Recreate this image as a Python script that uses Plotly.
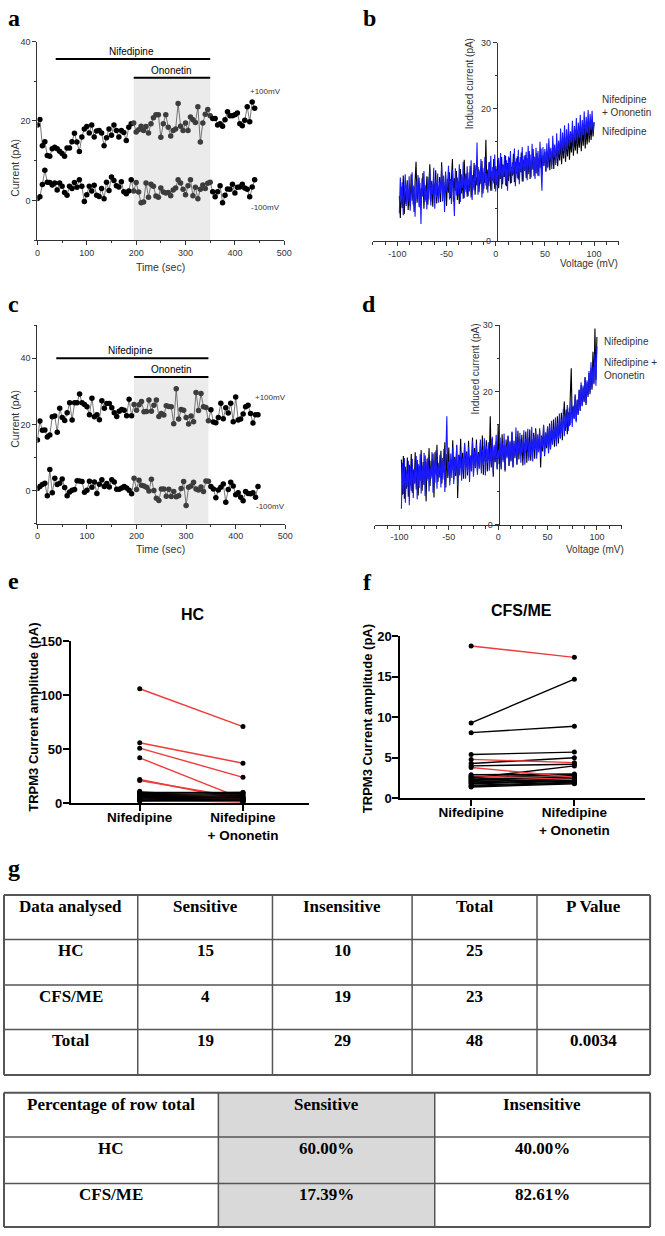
import plotly.graph_objects as go

W, H = 665, 1236

# ---------------- panels a / c : current (pA) vs time (sec) ----------------
TIME_A = list(range(0, 445, 5))
TIME_C = list(range(0, 450, 5))

POS_A = [19.0, 20.4, 13.8, 14.8, 11.3, 11.1, 13.0, 13.4, 13.0, 12.4,
         11.8, 11.1, 13.2, 13.2, 14.8, 16.9, 14.7, 12.3, 16.0, 18.0,
         18.6, 17.0, 19.0, 16.0, 17.5, 17.6, 17.0, 13.8, 15.8, 18.0,
         16.4, 19.0, 17.6, 16.0, 17.6, 17.1, 15.1, 18.4, 19.3, 19.5,
         17.2, 17.8, 18.7, 17.6, 18.6, 17.0, 19.3, 20.8, 21.6, 21.6,
         15.9, 19.3, 21.6, 18.4, 16.2, 17.6, 18.0, 24.4, 18.7, 17.6,
         19.5, 17.6, 21.0, 20.3, 19.6, 23.6, 14.7, 19.5, 21.7, 22.9,
         21.3, 20.6, 20.6, 19.0, 19.3, 18.7, 20.3, 22.3, 21.3, 21.3,
         21.6, 22.0, 19.3, 18.8, 20.2, 23.6, 19.8, 24.8, 23.2]
NEG_A = [0.5, 0.9, 4.0, 7.6, 4.6, 4.5, 3.9, 4.4, 2.6, 4.4,
         3.6, 2.0, 1.3, 3.6, 3.0, 4.5, 3.3, 5.2, 3.6, -0.3,
         1.4, 3.6, 2.4, 3.8, 1.3, 1.0, 3.0, 0.4, 4.6, 2.5,
         5.9, 5.0, 3.7, 3.4, 4.7, 2.2, 1.7, 2.4, 5.2, 2.4,
         4.5, 2.1, -0.6, -0.4, 4.4, 0.8, 4.1, 3.6, 1.1, 0.8,
         3.1, 2.1, 1.9, 2.0, 1.2, 2.6, 3.1, 5.2, 4.4, 2.8,
         1.4, 3.7, 5.2, 1.2, 3.3, 0.4, 2.8, 3.9, 3.0, 4.3,
         4.6, 2.2, 0.9, 2.2, 3.7, -0.6, 1.3, 2.9, 2.8, 4.1,
         1.9, 3.3, 3.4, 4.1, 3.1, 2.8, 0.9, 3.4, 5.2]
POS_C = [15.3, 21.0, 18.2, 18.3, 16.2, 16.8, 22.3, 22.5, 17.6, 24.9,
         22.1, 21.2, 23.5, 26.5, 21.3, 26.5, 26.5, 29.2, 26.5, 26.0,
         25.3, 22.9, 27.9, 22.3, 22.9, 21.4, 27.1, 24.9, 26.3, 26.3,
         25.0, 23.5, 22.4, 24.0, 24.5, 24.3, 22.6, 27.6, 22.6, 26.0,
         24.3, 25.9, 26.9, 23.8, 23.9, 27.4, 24.0, 25.8, 27.4, 22.4,
         23.3, 22.8, 25.6, 25.4, 25.3, 20.2, 30.8, 21.6, 24.5, 24.3,
         22.1, 20.1, 22.5, 20.8, 29.6, 24.2, 29.3, 25.3, 25.1, 21.1,
         24.4, 20.7, 20.5, 22.1, 26.4, 21.7, 25.0, 23.4, 26.4, 20.8,
         28.3, 21.3, 21.6, 23.1, 25.3, 25.8, 23.3, 20.4, 22.9, 22.9]
NEG_C = [0.6, 1.2, 1.8, 2.2, -1.6, 6.4, -0.7, 3.7, 1.8, 2.2,
         3.5, 0.9, -1.6, -0.4, 0.1, 0.3, 3.0, 2.9, 2.7, -0.5,
         0.1, 2.8, 1.0, 2.6, -0.9, 1.9, 3.3, 1.2, 2.1, 1.1,
         3.3, 2.6, 0.4, 0.4, 0.8, 1.2, 0.8, 0.1, -1.0, 3.7,
         0.3, 3.1, 1.6, 1.4, 1.0, -0.1, 3.4, 0.0, -2.3, -3.0,
         0.5, 0.5, -1.7, 0.4, -1.8, -0.3, -1.9, -1.6, 0.6, 2.7,
         -4.5, 1.0, 1.4, 2.5, 0.5, 0.2, 1.1, -0.3, 2.9, 2.8,
         1.2, 0.5, -2.2, 0.2, 1.0, 2.0, -3.5, 0.3, 2.5, 1.4,
         -1.3, -0.7, -2.0, -3.1, -0.3, -0.9, -1.0, -0.7, -2.0, 1.2]

# drug application windows (sec)
NIF_A = [37, 350]
ONO_A = [195, 350]
NIF_C = [38, 345]
ONO_C = [195, 345]

# ---------------- panels b / d : induced current (pA) over the voltage ramp ----------------
VOLT = list(range(-98, 101))
VOLT_TICKS = [-100, -50, 0, 50, 100]
VOLT_LABELS = ["-100", "-50", "0", "50", "100"]

NIF_B = [6.8, 3.5, 8.2, 5.0, 9.9, 4.1, 7.6, 5.6, 9.2, 4.7,
         7.8, 5.3, 10.1, 6.1, 8.4, 4.4, 9.0, 12.0, 5.8, 7.2,
         9.6, 5.1, 8.0, 6.7, 10.3, 4.9, 8.5, 6.2, 9.8, 5.5,
         7.9, 11.6, 6.0, 9.1, 5.2, 8.8, 6.9, 10.7, 5.7, 8.3,
         6.4, 9.7, 5.9, 11.9, 7.1, 8.9, 6.1, 10.0, 5.3, 9.4,
         7.3, 10.4, 6.5, 8.7, 12.4, 6.0, 9.5, 7.6, 10.6, 6.2,
         8.8, 5.6, 10.9, 7.2, 9.1, 6.4, 12.3, 7.8, 10.2, 6.7,
         9.3, 7.5, 11.4, 6.6, 10.0, 8.1, 11.8, 7.0, 9.7, 8.4,
         11.2, 7.4, 10.5, 8.6, 12.1, 7.2, 9.9, 8.8, 15.3, 7.8,
         10.8, 8.3, 12.0, 7.6, 10.6, 9.1, 12.4, 7.9, 11.3, 8.5,
         12.2, 8.0, 10.9, 9.4, 12.7, 8.6, 11.5, 9.7, 12.9, 8.3,
         11.8, 9.1, 12.6, 8.7, 11.2, 9.9, 13.2, 8.9, 12.0, 10.2,
         12.8, 9.3, 11.9, 10.4, 13.4, 9.0, 12.3, 10.6, 13.0, 9.5,
         12.5, 10.1, 13.6, 9.4, 12.2, 10.8, 13.9, 9.8, 12.7, 10.3,
         13.3, 9.9, 12.6, 11.0, 14.0, 10.0, 12.9, 11.4, 13.5, 10.5,
         13.0, 11.2, 14.2, 10.7, 13.6, 11.5, 14.8, 10.9, 13.8, 11.8,
         14.9, 11.3, 14.1, 12.2, 15.4, 11.6, 14.7, 12.5, 15.8, 12.0,
         15.2, 12.8, 16.1, 12.3, 15.5, 13.4, 16.6, 12.9, 15.9, 13.7,
         16.8, 13.2, 16.3, 14.1, 17.2, 13.6, 16.9, 14.4, 17.8, 14.0,
         17.1, 14.6, 18.0, 14.9, 17.5, 15.3, 18.2, 15.8, 17.9]
NIF_ONO_B = [4.2, 9.6, 5.8, 8.9, 3.9, 7.4, 10.1, 5.3, 8.6, 6.0,
             9.8, 4.6, 7.9, 10.4, 5.5, 8.2, 3.7, 9.1, 6.4, 10.0,
             5.2, 8.8, 2.6, 9.5, 6.8, 10.6, 5.9, 8.1, 4.8, 9.7,
             6.3, 10.9, 5.4, 8.7, 7.0, 11.1, 4.9, 9.3, 6.6, 10.2,
             5.8, 9.0, 7.2, 11.3, 6.0, 9.9, 4.4, 10.5, 7.5, 8.6,
             11.4, 6.3, 9.4, 5.6, 10.8, 7.8, 3.8, 11.0, 6.9, 9.6,
             7.1, 11.6, 5.9, 10.1, 8.0, 12.0, 6.5, 9.8, 7.4, 11.3,
             6.8, 10.4, 8.3, 12.2, 6.2, 9.9, 7.7, 11.5, 8.6, 14.9,
             7.0, 10.8, 8.8, 12.4, 6.6, 11.1, 7.9, 12.7, 8.4, 10.3,
             7.3, 11.9, 9.0, 12.9, 7.6, 11.2, 8.7, 13.1, 7.5, 10.9,
             8.2, 12.6, 9.4, 13.3, 7.9, 11.6, 9.7, 13.0, 8.4, 12.2,
             7.6, 12.8, 9.9, 13.6, 8.8, 11.9, 10.1, 14.0, 8.3, 12.5,
             9.5, 13.8, 8.6, 12.7, 10.4, 14.2, 9.0, 12.9, 10.7, 13.5,
             9.2, 14.4, 10.5, 13.1, 9.6, 14.7, 10.9, 12.8, 9.4, 14.1,
             10.2, 13.6, 9.8, 15.0, 10.9, 7.6, 14.2, 11.3, 13.9, 10.6,
             14.8, 11.0, 15.5, 12.2, 14.1, 10.9, 15.9, 12.6, 14.6, 11.5,
             16.3, 12.4, 15.2, 13.1, 17.0, 12.8, 16.4, 13.6, 17.5, 12.9,
             16.9, 13.8, 17.8, 14.3, 16.6, 14.9, 18.2, 13.9, 17.4, 15.2,
             18.6, 14.7, 17.9, 15.6, 19.1, 14.9, 18.3, 16.0, 19.6, 15.4,
             18.8, 16.3, 19.8, 15.9, 19.2, 16.8, 19.7, 16.5, 18.0]

NIF_D = [9.8, 4.5, 10.3, 3.9, 8.7, 5.4, 10.1, 4.2, 9.0, 5.9,
         10.6, 4.8, 8.3, 6.2, 10.9, 5.3, 9.7, 4.4, 8.9, 6.6,
         11.2, 5.1, 9.4, 6.0, 10.4, 3.5, 9.9, 6.9, 11.5, 5.8,
         9.6, 7.2, 10.7, 4.1, 10.9, 7.5, 12.0, 6.4, 9.3, 7.1,
         11.1, 6.2, 10.0, 7.8, 12.4, 5.6, 10.6, 7.0, 11.6, 6.5,
         9.8, 8.1, 12.7, 6.8, 10.2, 7.3, 11.9, 4.0, 10.5, 8.4,
         12.9, 7.6, 10.8, 6.9, 12.2, 8.7, 11.0, 7.4, 12.6, 8.0,
         10.4, 9.0, 13.1, 7.7, 11.5, 8.5, 12.8, 7.9, 10.9, 9.3,
         12.3, 8.2, 13.4, 7.5, 11.8, 9.6, 12.7, 8.0, 11.4, 9.8,
         16.3, 8.6, 12.9, 7.2, 11.7, 9.4, 12.5, 8.4, 15.0, 9.1,
         12.1, 8.3, 13.6, 9.7, 11.9, 8.0, 12.8, 10.2, 13.3, 8.8,
         12.4, 9.5, 13.9, 8.6, 12.6, 10.0, 13.2, 9.0, 14.1, 9.8,
         12.9, 10.4, 13.5, 8.9, 12.3, 10.7, 14.0, 9.3, 13.1, 10.1,
         14.3, 9.6, 12.8, 10.9, 13.8, 9.9, 14.5, 10.5, 12.7, 11.2,
         14.2, 8.6, 13.4, 11.0, 14.9, 10.3, 13.7, 11.5, 14.6, 10.8,
         15.2, 11.3, 14.3, 12.1, 15.8, 11.7, 14.9, 12.6, 16.3, 12.2,
         15.7, 13.1, 16.8, 12.7, 16.0, 18.5, 14.1, 17.3, 13.6, 16.9,
         14.8, 18.1, 23.5, 15.3, 17.7, 16.0, 19.4, 15.6, 18.8, 16.5,
         20.2, 17.1, 21.0, 17.8, 20.6, 18.4, 22.1, 18.0, 21.4, 19.2,
         22.8, 19.6, 23.6, 20.3, 26.0, 21.1, 29.5, 21.8, 28.2]
NIF_ONO_D = [2.4, 9.3, 4.6, 10.0, 3.3, 8.1, 5.7, 9.6, 2.9, 8.8,
             5.1, 9.9, 4.0, 8.4, 6.2, 10.3, 3.8, 9.1, 5.5, 10.6,
             4.7, 8.9, 6.0, 10.8, 4.3, 9.4, 6.6, 10.1, 5.0, 8.6,
             6.9, 10.9, 4.8, 9.7, 6.3, 11.2, 5.4, 9.0, 7.1, 10.5,
             5.6, 9.8, 6.8, 11.4, 4.9, 10.2, 16.3, 7.3, 9.5, 5.9,
             10.7, 7.0, 11.6, 6.1, 9.9, 7.7, 12.0, 5.8, 10.4, 7.4,
             11.1, 6.6, 10.0, 8.2, 12.3, 6.9, 10.8, 7.9, 11.7, 6.4,
             10.3, 8.0, 12.6, 7.2, 11.0, 8.7, 12.1, 7.5, 10.6, 8.4,
             12.8, 7.7, 11.3, 8.9, 13.0, 7.4, 11.8, 9.2, 12.4, 8.1,
             11.5, 9.0, 13.2, 7.8, 12.0, 9.6, 13.5, 8.3, 11.2, 9.9,
             13.1, 8.6, 12.3, 9.4, 13.7, 8.2, 11.9, 10.0, 13.4, 8.9,
             12.6, 9.7, 14.0, 8.7, 12.2, 10.3, 14.6, 9.1, 12.9, 10.6,
             13.8, 9.3, 12.5, 10.8, 14.2, 9.0, 13.0, 11.1, 14.4, 9.6,
             12.7, 10.4, 14.7, 9.5, 13.3, 11.2, 14.1, 9.9, 13.6, 10.9,
             14.5, 10.1, 13.2, 11.6, 15.0, 10.5, 13.9, 11.9, 14.8, 10.7,
             14.9, 11.4, 15.6, 12.0, 14.4, 12.7, 16.1, 11.8, 15.3, 13.0,
             16.7, 12.9, 15.8, 13.8, 17.4, 13.3, 16.5, 14.6, 18.0, 14.1,
             17.6, 15.0, 18.9, 14.7, 17.9, 15.9, 19.6, 15.4, 18.7, 16.6,
             20.3, 17.2, 21.4, 18.0, 20.9, 18.6, 22.2, 18.3, 21.7, 19.5,
             23.1, 20.0, 24.4, 20.6, 23.8, 21.3, 25.7, 20.9, 26.8]

# ---------------- panels e / f : TRPM3 current amplitude (pA) ----------------
CATS = ["Nifedipine", "Nifedipine<br>+ Ononetin"]

HC_SENS_NIF = [106, 56, 51, 42, 22, 21, 11, 10, 9, 8, 7, 6, 5, 4, 3]
HC_SENS_ONO = [71, 37, 24, 4, 3, 5, 3, 4, 2, 3, 5, 2, 2.5, 1.5, 1]
HC_INS_NIF = [10, 9, 8, 7, 6, 5, 4, 3, 2.5, 2]
HC_INS_ONO = [10, 10, 9, 8, 7, 6, 5, 4, 3, 2.5]

ME_SENS_NIF = [18.8, 4.8, 3.8, 2.8]
ME_SENS_ONO = [17.4, 4.4, 2.6, 2.3]
ME_INS_NIF = [9.3, 8.1, 5.4, 4.3, 4.0, 2.5, 2.9, 2.7, 2.6, 2.4,
              2.3, 2.2, 2.1, 2.0, 1.9, 1.8, 1.6, 1.5, 1.4]
ME_INS_ONO = [14.7, 8.9, 5.7, 5.0, 4.2, 4.0, 3.0, 2.8, 2.9, 2.6,
              2.5, 2.7, 2.3, 2.4, 2.2, 2.1, 2.0, 1.9, 1.8]

# ---------------- panel g : tables ----------------
T1_HEAD = ["Data analysed", "Sensitive", "Insensitive", "Total", "P Value"]
T1_ROWS = ["HC", "CFS/ME", "Total"]
SENSITIVE = [15, 4, 19]
INSENSITIVE = [10, 19, 29]
TOTAL = [25, 23, 48]
P_VALUE = ["", "", "0.0034"]

T2_HEAD = ["Percentage of row total", "Sensitive", "Insensitive"]
T2_ROWS = ["HC", "CFS/ME"]
PCT_SENS = ["60.00%", "17.39%"]
PCT_INSENS = ["40.00%", "82.61%"]

SANS = "Liberation Sans, Arial"
SERIF = "Liberation Serif, Times New Roman"
RED = "#ee3b3b"
GREY = "#333333"


def hx(p):
    return p / W


def vy(p):
    return 1 - p / H


def pairs(before, after):
    xs, ys = [], []
    for b, a in zip(before, after):
        xs += [0, 1, None]
        ys += [b, a, None]
    return xs, ys


def bold(v):
    return "<b>" + str(v) + "</b>"


fig = go.Figure()

# ---- a / c ----
for n, t, pos, neg, ono in [(1, TIME_A, POS_A, NEG_A, ONO_A), (3, TIME_C, POS_C, NEG_C, ONO_C)]:
    cols = ["#3c3c3c" if ono[0] <= v <= ono[1] else "black" for v in t]
    for ys in (pos, neg):
        fig.add_trace(go.Scatter(x=t, y=ys, mode="lines+markers", xaxis="x%d" % n, yaxis="y%d" % n,
                                 line=dict(color="#555", width=0.8),
                                 marker=dict(size=5.5, color=cols), showlegend=False))

# ---- b / d ----
for n, nif, both in [(2, NIF_B, NIF_ONO_B), (4, NIF_D, NIF_ONO_D)]:
    fig.add_trace(go.Scatter(x=VOLT, y=nif, mode="lines", xaxis="x%d" % n, yaxis="y%d" % n,
                             line=dict(color="black", width=1.1), showlegend=False))
    fig.add_trace(go.Scatter(x=VOLT, y=both, mode="lines", xaxis="x%d" % n, yaxis="y%d" % n,
                             line=dict(color="#1a1aff", width=1.1), showlegend=False))

# ---- e / f ----
panels_ef = [
    (5, [(HC_SENS_NIF, HC_SENS_ONO, RED), (HC_INS_NIF, HC_INS_ONO, "black")]),
    (6, [(ME_INS_NIF, ME_INS_ONO, "black"), (ME_SENS_NIF, ME_SENS_ONO, RED)]),
]
for n, groups in panels_ef:
    for before, after, col in groups:
        xs, ys = pairs(before, after)
        fig.add_trace(go.Scatter(x=xs, y=ys, mode="lines+markers", xaxis="x%d" % n, yaxis="y%d" % n,
                                 line=dict(color=col, width=1.4),
                                 marker=dict(size=5, color="black"), showlegend=False))

# ---- axes ----
thin = dict(showline=True, linecolor=GREY, linewidth=1, ticks="outside", ticklen=4, tickcolor=GREY,
            tickfont=dict(family=SANS, size=9, color=GREY), showgrid=False, zeroline=False)
thick = dict(showline=True, linecolor="black", linewidth=2, ticks="outside", ticklen=6, tickwidth=2,
             tickcolor="black", tickfont=dict(family=SANS, size=13, color="black", weight="bold"),
             showgrid=False, zeroline=False)
cat_font = dict(family=SANS, size=13.5, color="black", weight="bold")
volt_minor = dict(ticks="outside", ticklen=3, dtick=12.5, tick0=0, tickcolor=GREY)

fig.update_layout(
    xaxis=dict(thin, domain=[hx(35), hx(286)], range=[0, 500], dtick=100, anchor="y",
               minor=dict(ticks="outside", ticklen=2, dtick=50, tickcolor=GREY)),
    yaxis=dict(thin, domain=[vy(236), vy(35)], range=[-10, 40], dtick=20, anchor="x",
               minor=dict(ticks="outside", ticklen=2, dtick=10, tickcolor=GREY)),
    xaxis2=dict(thin, domain=[hx(376), hx(626)], range=[-125, 125], anchor="y2",
                tickvals=VOLT_TICKS, ticktext=VOLT_LABELS, minor=volt_minor),
    yaxis2=dict(thin, domain=[vy(237), vy(36)], range=[0, 30], dtick=10, anchor="free",
                position=hx(502), layer="below traces",
                minor=dict(ticks="outside", ticklen=2, dtick=5, tickcolor=GREY)),
    xaxis3=dict(thin, domain=[hx(35), hx(287)], range=[0, 500], dtick=100, anchor="y3",
                minor=dict(ticks="outside", ticklen=2, dtick=50, tickcolor=GREY)),
    yaxis3=dict(thin, domain=[vy(523), vy(322)], range=[-10, 50], dtick=20, anchor="x3",
                minor=dict(ticks="outside", ticklen=2, dtick=10, tickcolor=GREY)),
    xaxis4=dict(thin, domain=[hx(378), hx(629)], range=[-125, 125], anchor="y4",
                tickvals=VOLT_TICKS, ticktext=VOLT_LABELS, minor=volt_minor),
    yaxis4=dict(thin, domain=[vy(524), vy(322)], range=[0, 30], dtick=10, anchor="free",
                position=hx(504), layer="below traces",
                minor=dict(ticks="outside", ticklen=2, dtick=5, tickcolor=GREY)),
    xaxis5=dict(thick, domain=[hx(69), hx(311)], range=[-0.667, 1.638], anchor="y5",
                tickvals=[0, 1], ticktext=CATS, tickfont=cat_font, ticklabelstandoff=-5),
    yaxis5=dict(thick, domain=[vy(806), vy(642)], range=[0, 150], dtick=50, anchor="x5",
                ticklabelstandoff=-2),
    xaxis6=dict(thick, domain=[hx(404), hx(653)], range=[-0.686, 1.686], anchor="y6",
                tickvals=[0, 1], ticktext=CATS, tickfont=cat_font, ticklabelstandoff=-5),
    yaxis6=dict(thick, domain=[vy(801), vy(637)], range=[0, 20], dtick=5, anchor="x6",
                ticklabelstandoff=-2),
)

# ---- drug bars and shading ----
for n, nif, ono, ynif, yono in [("", NIF_A, ONO_A, 35.6, 30.9), ("3", NIF_C, ONO_C, 40, 34.3)]:
    xr, yr = "x" + n, "y" + n
    fig.add_shape(type="rect", xref=xr, yref=yr, x0=ono[0], x1=ono[1], y0=-10, y1=yono,
                  fillcolor="#ebebeb", line=dict(width=0), layer="below")
    fig.add_shape(type="line", xref=xr, yref=yr, x0=nif[0], x1=nif[1], y0=ynif, y1=ynif,
                  line=dict(color="black", width=2))
    fig.add_shape(type="line", xref=xr, yref=yr, x0=ono[0], x1=ono[1], y0=yono, y1=yono,
                  line=dict(color="black", width=2))
    fig.add_annotation(xref=xr, yref=yr, x=(nif[0] + nif[1]) / 2 - 3, y=ynif, yanchor="bottom",
                       text="Nifedipine", showarrow=False, font=dict(family=SANS, size=10, color="black"))
    fig.add_annotation(xref=xr, yref=yr, x=(ono[0] + ono[1]) / 2, y=yono, yanchor="bottom",
                       text="Ononetin", showarrow=False, font=dict(family=SANS, size=10, color="black"))

txt = dict(family=SANS, size=8, color=GREY)
fig.add_annotation(xref="x", yref="y", x=462, y=27.4, text="+100mV", showarrow=False, font=txt)
fig.add_annotation(xref="x", yref="y", x=462, y=-1.7, text="-100mV", showarrow=False, font=txt)
fig.add_annotation(xref="x3", yref="y3", x=470, y=28, text="+100mV", showarrow=False, font=txt)
fig.add_annotation(xref="x3", yref="y3", x=470, y=-4.8, text="-100mV", showarrow=False, font=txt)


def paper_text(xp, yp, text, size, family=SANS, color=GREY, angle=0, xanchor="center", weight="normal"):
    fig.add_annotation(xref="paper", yref="paper", x=hx(xp), y=vy(yp), text=text, showarrow=False,
                       textangle=angle, xanchor=xanchor, yanchor="middle", align="left",
                       font=dict(family=family, size=size, color=color, weight=weight))


# axis titles
paper_text(12, 163, "Current (pA)", 10.5, angle=-90)
paper_text(160, 263, "Time (sec)", 10.5)
paper_text(12, 417, "Current (pA)", 10.5, angle=-90)
paper_text(160, 549, "Time (sec)", 10.5)
paper_text(474, 78, "Induced current (pA)", 10, angle=-90)
paper_text(596, 260, "Voltage (mV)", 10)
paper_text(480, 367, "Induced current (pA)", 10, angle=-90)
paper_text(602, 549, "Voltage (mV)", 10)
paper_text(31, 719, "TRPM3 Current amplitude (pA)", 13, color="black", angle=-90, weight="bold")
paper_text(370, 720, "TRPM3 Current amplitude (pA)", 13, color="black", angle=-90, weight="bold")
paper_text(193, 615, "HC", 16, color="black", weight="bold")
paper_text(527, 611, "CFS/ME", 16, color="black", weight="bold")

# IV trace labels
paper_text(607, 100, "Nifedipine<br>+ Ononetin", 10, xanchor="left")
paper_text(607, 126, "Nifedipine", 10, xanchor="left")
paper_text(609, 339, "Nifedipine", 10, xanchor="left")
paper_text(609, 366, "Nifedipine +<br>Ononetin", 10, xanchor="left")

# panel letters
for lab, xp, yp in [("a", 3, 11), ("b", 364, 11), ("c", 3, 301), ("d", 363, 301),
                    ("e", 3, 581), ("f", 364, 582), ("g", 3, 872)]:
    paper_text(xp, yp, lab, 24, family=SERIF, color="black", xanchor="left", weight="bold")


# ---- tables (grid lines + top aligned cell text) ----
def draw_table(col_edges, row_edges, rows, shade_col=None):
    if shade_col is not None:
        fig.add_shape(type="rect", xref="paper", yref="paper",
                      x0=hx(col_edges[shade_col]), x1=hx(col_edges[shade_col + 1]),
                      y0=vy(row_edges[-1]), y1=vy(row_edges[0]),
                      fillcolor="#d9d9d9", line=dict(width=0), layer="below")
    for i, yp in enumerate(row_edges):
        w = 2 if i in (0, len(row_edges) - 1) else 1.5
        fig.add_shape(type="line", xref="paper", yref="paper", x0=hx(col_edges[0]), x1=hx(col_edges[-1]),
                      y0=vy(yp), y1=vy(yp), line=dict(color="#555", width=w))
    for i, xp in enumerate(col_edges):
        w = 2 if i in (0, len(col_edges) - 1) else 1.5
        fig.add_shape(type="line", xref="paper", yref="paper", x0=hx(xp), x1=hx(xp),
                      y0=vy(row_edges[-1]), y1=vy(row_edges[0]), line=dict(color="#555", width=w))
    for r, row in enumerate(rows):
        for c, val in enumerate(row):
            if val == "":
                continue
            paper_text((col_edges[c] + col_edges[c + 1]) / 2, row_edges[r] + 11.5, bold(val), 17,
                       family=SERIF, color="black")


t1_rows = [T1_HEAD] + [[T1_ROWS[i], SENSITIVE[i], INSENSITIVE[i], TOTAL[i], P_VALUE[i]]
                       for i in range(len(T1_ROWS))]
t2_rows = [T2_HEAD] + [[T2_ROWS[i], PCT_SENS[i], PCT_INSENS[i]] for i in range(len(T2_ROWS))]
draw_table([1, 137, 274, 416, 543, 658], [899, 944, 990, 1035, 1081], t1_rows)
draw_table([1, 219, 439, 658], [1099, 1144, 1191, 1235], t2_rows, shade_col=1)

fig.update_layout(width=W, height=H, margin=dict(l=0, r=0, t=0, b=0),
                  paper_bgcolor="white", plot_bgcolor="white", showlegend=False)

# pin the figure to the top-left corner of the page so nothing shifts it
pin = ("document.body.style.margin='0px';"
       "var g=document.getElementById('{plot_id}');"
       "g.style.position='absolute';g.style.left='0px';g.style.top='0px';")
fig.write_html("out.html", config={"displayModeBar": False}, post_script=pin)
